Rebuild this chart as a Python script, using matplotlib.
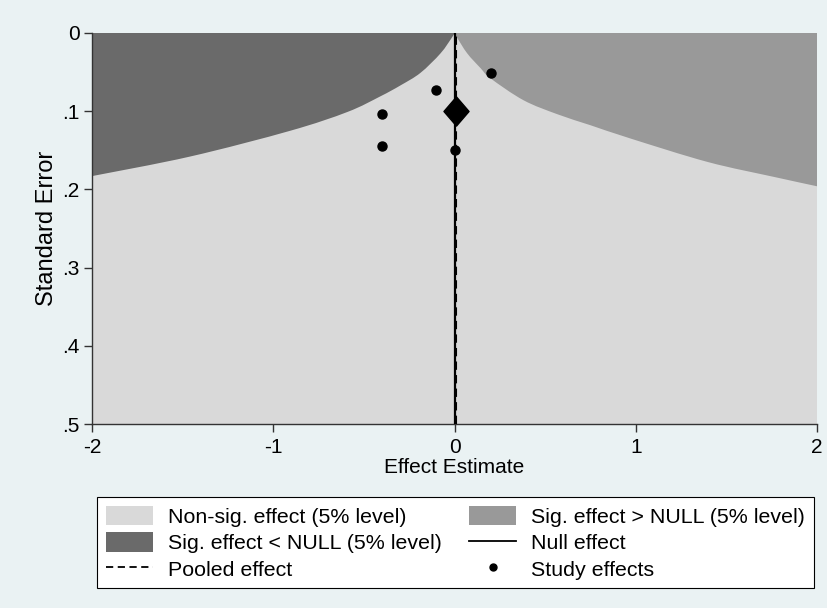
import numpy as np
import matplotlib
matplotlib.use('Agg')
import matplotlib.pyplot as plt
from matplotlib.patches import Patch, PathPatch
from matplotlib.path import Path
from matplotlib.lines import Line2D
from matplotlib.ticker import FuncFormatter

plt.rcParams['font.family'] = ['Liberation Sans', 'DejaVu Sans']
plt.rcParams['axes.unicode_minus'] = False

# study estimates
study_effect = [-0.4, -0.4, -0.1, 0.2, 0.0]
study_se = [0.104, 0.145, 0.073, 0.051, 0.149]

pooled_effect = 0.007
pooled_se = 0.1
null_effect = 0.0

# 5% significance contours (effect, se) traced along each side
lower_x = [-2.0, -1.459, -0.906, -0.591, -0.409, -0.298, -0.188, -0.077, -0.012, 0.0]
lower_se = [0.183, 0.158, 0.125, 0.101, 0.081, 0.067, 0.051, 0.026, 0.005, 0.0]
upper_x = [0.0, 0.012, 0.070, 0.144, 0.199, 0.381, 0.569, 0.751, 0.972, 1.398, 1.762, 2.0]
upper_se = [0.0, 0.005, 0.026, 0.045, 0.058, 0.086, 0.104, 0.118, 0.135, 0.165, 0.184, 0.196]

x_ticks = [-2, -1, 0, 1, 2]
y_ticks = [0, 0.1, 0.2, 0.3, 0.4, 0.5]

bg = '#eaf2f3'
c_nonsig = '#d9d9d9'
c_hi = '#999999'
c_lo = '#6a6a6a'
FS = 15


def smooth_verts(xs, ys):
    """Catmull-Rom through the points, returned as cubic bezier vertices/codes."""
    pts = np.column_stack([xs, ys]).astype(float)
    n = len(pts)
    verts = [pts[0]]
    codes = []
    for i in range(n - 1):
        p0 = pts[max(i - 1, 0)]
        p1 = pts[i]
        p2 = pts[i + 1]
        p3 = pts[min(i + 2, n - 1)]
        verts += [p1 + (p2 - p0) / 6.0, p2 - (p3 - p1) / 6.0, p2]
        codes += [Path.CURVE4] * 3
    return verts, codes


def region(xs, ys, corner_pts):
    verts, codes = smooth_verts(xs, ys)
    verts = list(verts)
    codes = [Path.MOVETO] + codes
    for c in corner_pts:
        verts.append(c)
        codes.append(Path.LINETO)
    verts.append(verts[0])
    codes.append(Path.CLOSEPOLY)
    return Path(verts, codes)


# slightly tall diamond for the pooled estimate
diamond = Path([(0, 0.5), (0.43, 0), (0, -0.5), (-0.43, 0), (0, 0.5)],
               [Path.MOVETO, Path.LINETO, Path.LINETO, Path.LINETO, Path.CLOSEPOLY])

fig = plt.figure(figsize=(8.27, 6.08), dpi=100, facecolor=bg)
ax = fig.add_axes([92 / 827, 1 - 424 / 608, 725 / 827, 391 / 608])
ax.set_facecolor(c_nonsig)

ax.add_patch(PathPatch(region(lower_x, lower_se, [(-2.0, 0.0)]), facecolor=c_lo, lw=0))
ax.add_patch(PathPatch(region(upper_x, upper_se, [(2.0, 0.0)]), facecolor=c_hi, lw=0))

ax.axvline(null_effect, color='black', lw=1.6, zorder=3)
ax.axvline(pooled_effect, color='black', lw=1.5, ls=(0, (4, 2.5)), zorder=3)
ax.plot(study_effect, study_se, 'o', color='black', ms=6.5, zorder=4)
ax.plot([pooled_effect], [pooled_se], marker=diamond, color='black', ms=21, zorder=5)

ax.set_xlim(-2, 2)
ax.set_ylim(0.5, 0)
ax.set_xticks(x_ticks)
ax.set_yticks(y_ticks)
ax.yaxis.set_major_formatter(FuncFormatter(lambda v, p: '0' if v == 0 else ('%.1f' % v).lstrip('0')))
for s in ['top', 'right']:
    ax.spines[s].set_visible(False)
for s in ['left', 'bottom']:
    ax.spines[s].set_color('#333333')
    ax.spines[s].set_linewidth(1.0)
ax.tick_params(direction='out', length=6, width=1.0, color='#333333', labelsize=FS, pad=3)
ax.tick_params(axis='x', pad=4)
ax.set_xlabel('Effect Estimate', fontsize=FS, labelpad=1)
ax.set_ylabel('Standard Error', fontsize=17, labelpad=3)

handles = [
    Patch(facecolor=c_nonsig, edgecolor='none'),
    Patch(facecolor=c_lo, edgecolor='none'),
    Line2D([], [], color='black', lw=1.3, ls=(0, (4, 2.5))),
    Patch(facecolor=c_hi, edgecolor='none'),
    Line2D([], [], color='black', lw=1.3),
    Line2D([], [], marker='o', color='black', ls='none', ms=5),
]
labels = ['Non-sig. effect (5% level)', 'Sig. effect < NULL (5% level)', 'Pooled effect',
          'Sig. effect > NULL (5% level)', 'Null effect', 'Study effects']
leg = fig.legend(handles, labels, ncol=2, loc='upper left',
                 bbox_to_anchor=(97 / 827, 1 - 497 / 608),
                 fontsize=15.4, frameon=True, fancybox=False,
                 edgecolor='black', facecolor='white', framealpha=1,
                 handlelength=2.2, handleheight=1.05, handletextpad=0.7,
                 labelspacing=0.25, columnspacing=1.3, borderpad=0.4, borderaxespad=0)
leg.get_frame().set_linewidth(0.8)

fig.savefig('out.png', dpi=100, facecolor=bg)
